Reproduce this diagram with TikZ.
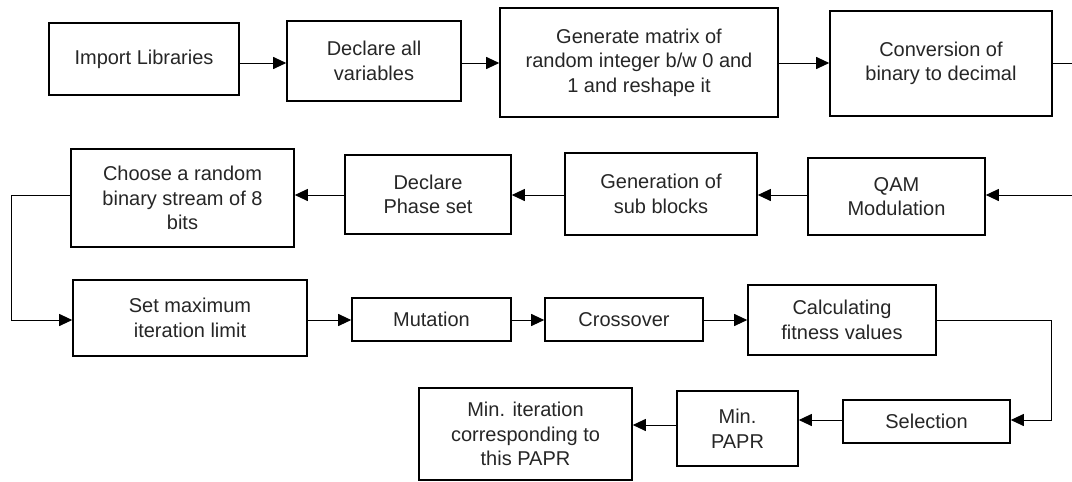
\documentclass[tikz,border=0pt]{standalone}
\usepackage{fontspec}
\setmainfont{Liberation Sans}
\usetikzlibrary{arrows.meta}
\definecolor{textgray}{HTML}{262626}

\begin{document}
\begin{tikzpicture}[x=1pt, y=-1pt,
        box/.style={draw, line width=1.6pt, inner sep=0pt, align=center,
            text=textgray, font=\fontsize{20}{24.5}\selectfont},
        link/.style={line width=1pt},
        flow/.style={link, -{Triangle[length=13pt, width=12pt]}}]

        % page size
        \useasboundingbox (0,0) rectangle (1072,482);

        % heights of the rows of arrows
        \coordinate (rOne) at (0,63);
        \coordinate (rTwo) at (0,195);
        \coordinate (rThree) at (0,320);
        \coordinate (rFour) at (0,420);
        \coordinate (rFive) at (0,425);
        \coordinate (bendL) at (11,0);
        \coordinate (bendR) at (1051,0);
        \coordinate (outR) at (1072,63);
        \coordinate (inR) at (1072,195);

        % first row
        \node [box, minimum width=190pt, minimum height=72pt] (imp) at (144,59) {Import Libraries};
        \node [box, minimum width=174pt, minimum height=80pt] (decl) at (374,61) {Declare all\\variables};
        \node [box, minimum width=278pt, minimum height=109pt] (gen) at (639,62.5) {Generate matrix of\\random integer b/w 0 and\\1 and reshape it};
        \node [box, minimum width=222pt, minimum height=105pt] (conv) at (941,63.5) {Conversion of\\binary to decimal};

        % second row
        \node [box, minimum width=223pt, minimum height=98pt] (choose) at (182.5,198) {Choose a random\\binary stream of 8\\bits};
        \node [box, minimum width=166pt, minimum height=79pt] (phase) at (428,194.5) {Declare\\Phase set};
        \node [box, minimum width=192pt, minimum height=82pt] (subb) at (661,194) {Generation of\\sub blocks};
        \node [box, minimum width=177pt, minimum height=77pt] (qam) at (896.5,196.5) {QAM\\Modulation};

        % third row
        \node [box, minimum width=234pt, minimum height=76pt] (setmax) at (190,318) {Set maximum\\iteration limit};
        \node [box, minimum width=159pt, minimum height=43pt] (mut) at (431.5,319.5) {Mutation};
        \node [box, minimum width=158pt, minimum height=43pt] (cross) at (624,319.5) {Crossover};
        \node [box, minimum width=188pt, minimum height=70pt] (fit) at (842,320) {Calculating\\fitness values};

        % fourth row
        \node [box, minimum width=213pt, minimum height=92pt] (minit) at (525.5,434) {Min. iteration\\corresponding to\\this PAPR};
        \node [box, minimum width=121pt, minimum height=75pt] (papr) at (737.5,428.5) {Min.\\PAPR};
        \node [box, minimum width=167pt, minimum height=43pt] (sel) at (926.5,421.5) {Selection};

        % connectors
        \draw [flow] (imp.east |- rOne) -- (decl.west |- rOne);
        \draw [flow] (decl.east |- rOne) -- (gen.west |- rOne);
        \draw [flow] (gen.east |- rOne) -- (conv.west |- rOne);
        \draw [link] (conv.east |- rOne) -- (outR);

        \draw [flow] (inR) -- (qam.east |- rTwo);
        \draw [flow] (qam.west |- rTwo) -- (subb.east |- rTwo);
        \draw [flow] (subb.west |- rTwo) -- (phase.east |- rTwo);
        \draw [flow] (phase.west |- rTwo) -- (choose.east |- rTwo);
        \draw [flow] (choose.west |- rTwo) -| (bendL |- rThree) -- (setmax.west |- rThree);

        \draw [flow] (setmax.east |- rThree) -- (mut.west |- rThree);
        \draw [flow] (mut.east |- rThree) -- (cross.west |- rThree);
        \draw [flow] (cross.east |- rThree) -- (fit.west |- rThree);
        \draw [flow] (fit.east |- rThree) -| (bendR |- rFour) -- (sel.east |- rFour);

        \draw [flow] (sel.west |- rFour) -- (papr.east |- rFour);
        \draw [flow] (papr.west |- rFive) -- (minit.east |- rFive);
    \end{tikzpicture}
\end{document}
